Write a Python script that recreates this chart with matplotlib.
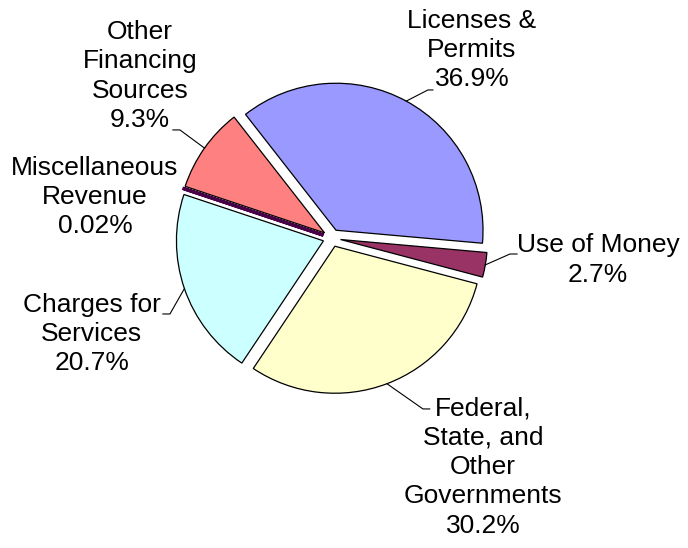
import numpy as np
import matplotlib
matplotlib.use("Agg")
import matplotlib.pyplot as plt

plt.rcParams["font.family"] = ["Liberation Sans", "DejaVu Sans"]

# Revenue categories, clockwise from the top-left
names = ["Licenses &\nPermits", "Use of Money",
         "Federal,\nState, and\nOther\nGovernments",
         "Charges for\nServices", "Miscellaneous\nRevenue",
         "Other\nFinancing\nSources"]
shares = [36.9, 2.7, 30.2, 20.7, 0.02, 9.3]
colors = ["#9999FF", "#993366", "#FFFFCC", "#CCFFFF", "#660066", "#FF8080"]

# label layout (data units, radius = 1): text centre, elbow of leader, leader end
label_xy = [(0.954, 1.279), (1.811, -0.150), (1.029, -1.558),
            (-1.632, -0.653), (-1.611, 0.279), (-1.305, 1.102)]
elbow_xy = [(0.654, 1.007), (1.212, -0.109), (0.620, -1.163),
            (-1.101, -0.517), None, (-1.033, 0.735)]
end_x = [0.688, 1.260, 0.666, -1.149, None, -1.081]

fig = plt.figure(figsize=(6.88, 5.48), dpi=100)
ax = fig.add_axes([0, 0, 1, 1])

wedges, _ = ax.pie(shares, colors=colors, startangle=128, counterclock=False,
                   explode=[0.06] * len(shares), radius=1.0,
                   wedgeprops=dict(edgecolor="black", linewidth=0.9))
# the tiny misc slice only shows as a dark sliver
wedges[4].set_edgecolor("#4a0048")
wedges[4].set_linewidth(2.4)

for i, w in enumerate(wedges):
    txt = f"{names[i]}\n{shares[i]:g}%"
    ax.text(label_xy[i][0], label_xy[i][1], txt, ha="center", va="center",
            fontsize=19, linespacing=1.28, multialignment="center")
    if elbow_xy[i] is None:
        continue
    mid = np.deg2rad(0.5 * (w.theta1 + w.theta2))
    cx, cy = w.center
    sx = cx + w.r * np.cos(mid)
    sy = cy + w.r * np.sin(mid)
    ex, ey = elbow_xy[i]
    ax.plot([sx, ex, end_x[i]], [sy, ey, ey], color="black", lw=0.8)

ax.set_xlim(-2.257, 2.423)
ax.set_ylim(-2.109, 1.619)
ax.set_aspect("auto")
ax.axis("off")

fig.savefig("out.png", dpi=100, facecolor="white")
